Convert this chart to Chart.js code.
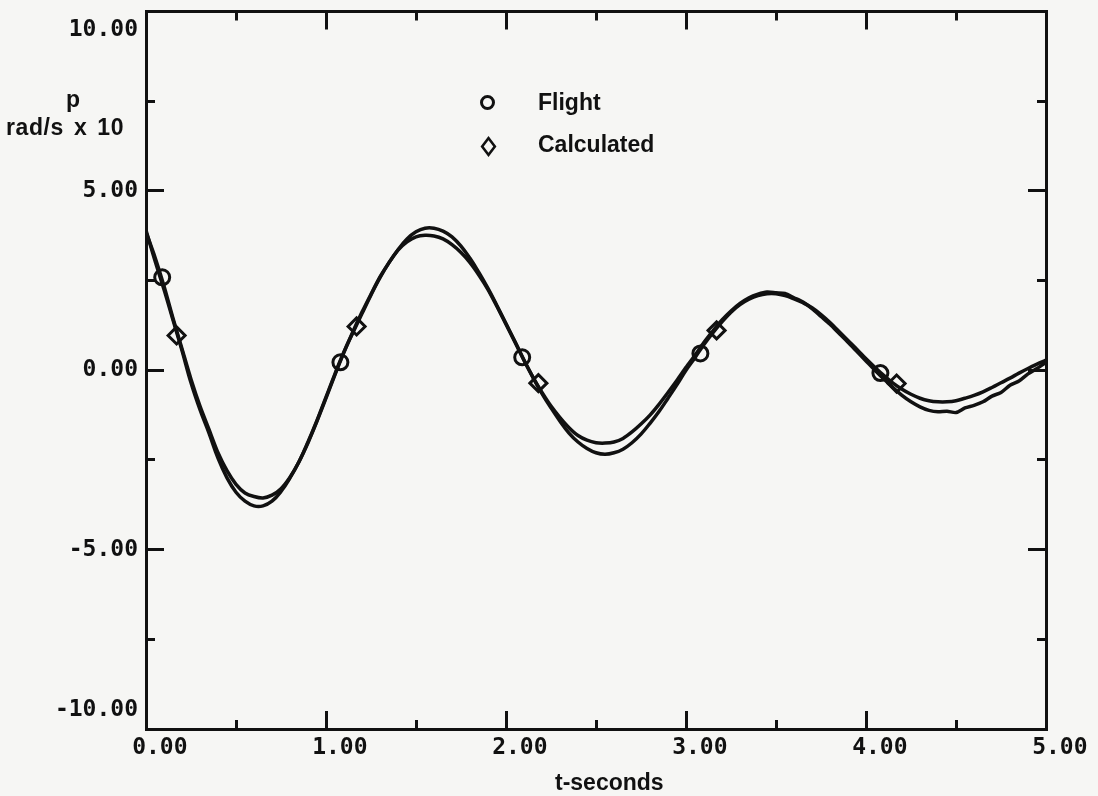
<!DOCTYPE html>
<html>
<head>
<meta charset="utf-8">
<script src="https://cdn.jsdelivr.net/npm/chart.js@4/dist/chart.umd.min.js"></script>
<style>
  html, body { margin: 0; padding: 0; background: #f6f6f4; }
  #wrap { position: relative; width: 1098px; height: 796px; }
  canvas { position: absolute; left: 0; top: 0; }
  .lbl { position: absolute; font-family: "Liberation Sans", Arial, sans-serif; font-weight: bold; font-size: 23px; color: #111; white-space: nowrap; line-height: 1; }
  .circ { position: absolute; width: 9px; height: 9px; border: 3px solid #111; border-radius: 50%; }
  .diam { position: absolute; width: 16px; height: 16px; }
  .diam div { position: absolute; left: 2px; top: 2px; width: 9px; height: 9px; border: 3px solid #111; transform: scaleX(0.75) rotate(45deg); }
</style>
</head>
<body>
<div id="wrap">
  <canvas id="c" width="1098" height="796"></canvas>
  <div class="lbl" style="left:66px; top:88px;">p</div>
  <div class="lbl" style="left:6px; top:116px; word-spacing:3px; letter-spacing:0.6px;">rad/s x 10</div>
  <div class="circ" style="left:480px; top:95px;"></div>
  <div class="lbl" style="left:538px; top:91px;">Flight</div>
  <div class="diam" style="left:479px; top:137px;"><div></div></div>
  <div class="lbl" style="left:538px; top:133px;">Calculated</div>
  <div class="lbl" style="left:555px; top:771px;">t-seconds</div>
</div>
<script>
// ---- data ----
const timeS = [0.00,0.05,0.10,0.15,0.20,0.25,0.30,0.35,0.40,0.45,0.50,0.55,0.60,0.65,0.70,0.75,0.80,0.85,0.90,0.95,
  1.00,1.05,1.10,1.15,1.20,1.25,1.30,1.35,1.40,1.45,1.50,1.55,1.60,1.65,1.70,1.75,1.80,1.85,1.90,1.95,
  2.00,2.05,2.10,2.15,2.20,2.25,2.30,2.35,2.40,2.45,2.50,2.55,2.60,2.65,2.70,2.75,2.80,2.85,2.90,2.95,
  3.00,3.05,3.10,3.15,3.20,3.25,3.30,3.35,3.40,3.45,3.50,3.55,3.60,3.65,3.70,3.75,3.80,3.85,3.90,3.95,
  4.00,4.05,4.10,4.15,4.20,4.25,4.30,4.35,4.40,4.45,4.50,4.55,4.60,4.65,4.70,4.75,4.80,4.85,4.90,4.95,5.00];

const calculatedP = [3.90,3.05,2.25,1.40,0.55,-0.35,-1.10,-1.75,-2.45,-3.00,-3.40,-3.65,-3.78,-3.78,-3.65,-3.38,-3.00,-2.55,-2.00,-1.40,
  -0.75,-0.10,0.52,1.05,1.58,2.10,2.58,3.00,3.36,3.66,3.86,3.96,3.96,3.88,3.72,3.46,3.12,2.72,2.28,1.80,
  1.30,0.80,0.28,-0.20,-0.65,-1.05,-1.42,-1.75,-2.00,-2.18,-2.30,-2.34,-2.30,-2.20,-2.02,-1.78,-1.48,-1.15,-0.78,-0.40,
  0.00,0.35,0.72,1.05,1.35,1.62,1.83,1.98,2.08,2.13,2.13,2.08,1.99,1.88,1.74,1.55,1.33,1.08,0.83,0.58,
  0.32,0.08,-0.15,-0.36,-0.53,-0.67,-0.78,-0.85,-0.88,-0.88,-0.85,-0.78,-0.70,-0.60,-0.48,-0.35,-0.22,-0.08,0.05,0.17,0.28];

const flightP = [3.85,3.15,2.35,1.45,0.60,-0.25,-1.00,-1.65,-2.30,-2.80,-3.18,-3.42,-3.52,-3.56,-3.48,-3.30,-2.98,-2.55,-2.02,-1.42,
  -0.78,-0.12,0.50,1.08,1.62,2.12,2.60,3.00,3.35,3.58,3.72,3.76,3.74,3.66,3.50,3.28,3.00,2.65,2.25,1.78,
  1.28,0.78,0.28,-0.20,-0.62,-1.00,-1.32,-1.60,-1.82,-1.95,-2.02,-2.03,-2.00,-1.90,-1.72,-1.50,-1.25,-0.95,-0.62,-0.28,
  0.08,0.42,0.78,1.10,1.40,1.65,1.86,2.02,2.12,2.18,2.16,2.14,2.02,1.90,1.72,1.50,1.28,1.03,0.78,0.52,
  0.26,0.00,-0.25,-0.48,-0.70,-0.88,-1.02,-1.12,-1.16,-1.14,-1.18,-1.05,-0.98,-0.88,-0.72,-0.62,-0.42,-0.30,-0.10,0.05,0.22];

const flightMarkT = [0.09, 1.08, 2.09, 3.08, 4.08];
const flightMarkP = [2.59, 0.22, 0.36, 0.47, -0.08];
const calcMarkT = [0.17, 1.17, 2.18, 3.17, 4.17];
const calcMarkP = [0.97, 1.22, -0.36, 1.11, -0.37];

const xTickValues = [0, 1, 2, 3, 4, 5];
const xTickLabels = ['0.00', '1.00', '2.00', '3.00', '4.00', '5.00'];
const yTickValues = [-10, -5, 0, 5, 10];
const yTickLabels = ['-10.00', '-5.00', '0.00', '5.00', '10.00'];

// ---- chart ----
const INK = '#111111';
const pts = (xs, ys) => xs.map((x, i) => ({ x: x, y: ys[i] }));
const isMajorX = v => xTickValues.some(t => Math.abs(t - v) < 1e-6);
const isMajorY = v => yTickValues.some(t => Math.abs(t - v) < 1e-6);
const tickFont = { family: '"DejaVu Sans Mono", monospace', weight: 'bold', size: 23 };

function gridOpts(isMajor, minorDash, minorOffset) {
  return {
    drawOnChartArea: false,
    drawTicks: true,
    tickLength: -18,
    color: INK,
    lineWidth: 3,
    tickWidth: 3,
    tickColor: INK,
    tickBorderDash: ctx => (ctx.tick && !isMajor(ctx.tick.value)) ? minorDash : [],
    tickBorderDashOffset: ctx => (ctx.tick && !isMajor(ctx.tick.value)) ? minorOffset : 0
  };
}
const border = { display: true, color: INK, width: 3 };
function fixSize(prop, val) {
  return s => {
    s[prop] = val;
    s.paddingLeft = 0; s.paddingRight = 0; s.paddingTop = 0; s.paddingBottom = 0;
  };
}

new Chart(document.getElementById('c'), {
  type: 'line',
  data: {
    datasets: [
      { label: 'Flight', data: pts(timeS, flightP), borderColor: INK, borderWidth: 3.5, pointRadius: 0, tension: 0.25, fill: false },
      { label: 'Calculated', data: pts(timeS, calculatedP), borderColor: INK, borderWidth: 3.5, pointRadius: 0, tension: 0.4, fill: false },
      { label: 'Flight markers', data: pts(flightMarkT, flightMarkP), showLine: false, pointStyle: 'circle', pointRadius: 7.5,
        pointBorderWidth: 3, pointBorderColor: INK, pointBackgroundColor: 'rgba(0,0,0,0)' },
      { label: 'Calculated markers', data: pts(calcMarkT, calcMarkP), showLine: false, pointStyle: 'rectRot', pointRadius: 8.5,
        pointBorderWidth: 3, pointBorderColor: INK, pointBackgroundColor: 'rgba(0,0,0,0)' }
    ]
  },
  options: {
    responsive: false,
    animation: false,
    events: [],
    layout: { padding: 0 },
    plugins: { legend: { display: false }, tooltip: { enabled: false } },
    scales: {
      x: {
        type: 'linear', position: 'bottom', min: 0, max: 5,
        afterFit: fixSize('height', 67),
        ticks: {
          stepSize: 0.5, padding: 23, color: INK, font: tickFont, maxRotation: 0, autoSkip: false,
          callback: v => { const i = xTickValues.findIndex(t => Math.abs(t - v) < 1e-6); return i < 0 ? '' : '  ' + xTickLabels[i]; }
        },
        grid: gridOpts(isMajorX, [11, 100], 0),
        border: border
      },
      xTop: {
        type: 'linear', position: 'top', min: 0, max: 5, display: true,
        afterFit: fixSize('height', 10),
        ticks: { stepSize: 0.5, display: false, autoSkip: false },
        grid: gridOpts(isMajorX, [9, 9], 9),
        border: border
      },
      y: {
        type: 'linear', position: 'left', min: -10, max: 10,
        afterFit: fixSize('width', 146),
        ticks: {
          stepSize: 2.5, padding: 26, color: INK, autoSkip: false,
          font: Object.assign({}, tickFont, { lineHeight: '37px' }),
          callback: v => {
            const i = yTickValues.findIndex(t => Math.abs(t - v) < 1e-6);
            if (i < 0) return '';
            if (i === yTickValues.length - 1) return ['', yTickLabels[i]];
            if (i === 0) return [yTickLabels[i], ''];
            return yTickLabels[i];
          }
        },
        grid: gridOpts(isMajorY, [9, 9], 9),
        border: border
      },
      yRight: {
        type: 'linear', position: 'right', min: -10, max: 10, display: true,
        afterFit: fixSize('width', 52),
        ticks: { stepSize: 2.5, display: false, autoSkip: false },
        grid: gridOpts(isMajorY, [11, 100], 0),
        border: border
      }
    }
  }
});
</script>
</body>
</html>
